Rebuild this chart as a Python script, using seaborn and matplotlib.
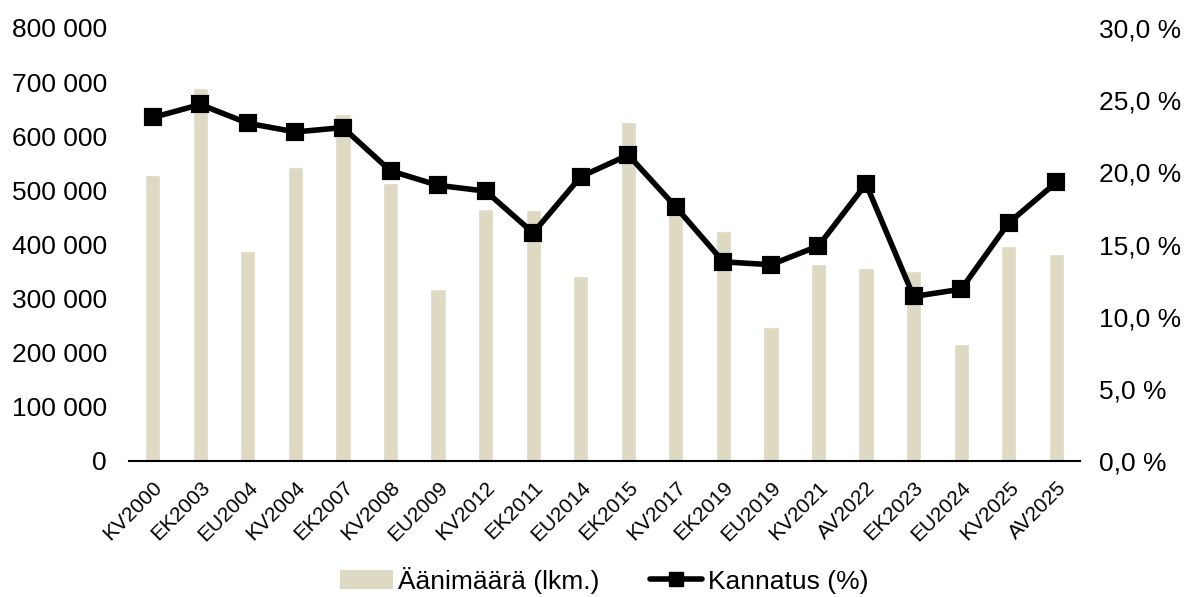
import matplotlib
matplotlib.use("Agg")
import matplotlib.pyplot as plt
import seaborn as sns
import numpy as np
from matplotlib.ticker import FuncFormatter, MultipleLocator
from matplotlib.lines import Line2D
from matplotlib.patches import Patch

categories = ["KV2000", "EK2003", "EU2004", "KV2004", "EK2007", "KV2008", "EU2009",
              "KV2012", "EK2011", "EU2014", "EK2015", "KV2017", "EK2019", "EU2019",
              "KV2021", "AV2022", "EK2023", "EU2024", "KV2025", "AV2025"]
votes = [529000, 690000, 388000, 544000, 641000, 513000, 318000,
         466000, 464000, 341000, 627000, 455000, 425000, 248000,
         364000, 357000, 351000, 216000, 397000, 383000]
support = [23.8, 24.7, 23.4, 22.8, 23.1, 20.1, 19.1,
           18.7, 15.8, 19.7, 21.2, 17.6, 13.8, 13.6,
           14.9, 19.2, 11.4, 11.9, 16.5, 19.3]

sns.set_style("white")
plt.rcParams['font.family'] = ['Liberation Sans', 'DejaVu Sans']
plt.rcParams['text.color'] = 'black'
plt.rcParams['xtick.color'] = 'black'
plt.rcParams['ytick.color'] = 'black'
plt.rcParams['axes.labelcolor'] = 'black'

bar_color = "#DDD9C3"
fig = plt.figure(figsize=(11.86, 5.97), dpi=100)
ax = fig.add_axes([129/1186, 1 - 461/597, (1080-129)/1186, (461-28)/597])

sns.barplot(x=categories, y=votes, ax=ax, color=bar_color, width=0.32,
            saturation=1, errorbar=None)
ax.set_ylim(0, 800000)
ax.yaxis.set_major_locator(MultipleLocator(100000))
ax.yaxis.set_major_formatter(FuncFormatter(lambda v, p: f"{int(v):,}".replace(",", " ")))

ax2 = ax.twinx()
sns.pointplot(x=categories, y=support, ax=ax2, color="black", markers="s",
              linestyles="-", errorbar=None, markersize=10, linewidth=4)
ax2.set_ylim(0, 30)
ax2.yaxis.set_major_locator(MultipleLocator(5))
ax2.yaxis.set_major_formatter(FuncFormatter(lambda v, p: f"{v:.1f} %".replace(".", ",")))
ax.set_xlim(-0.5, len(categories) - 0.5)
ax2.set_xlim(-0.5, len(categories) - 0.5)

for a in (ax, ax2):
    for s in a.spines.values():
        s.set_visible(False)
    a.set_xlabel("")
    a.set_ylabel("")
    a.grid(False)
ax.spines["bottom"].set_visible(True)
ax.spines["bottom"].set_color("black")
ax.spines["bottom"].set_linewidth(1.5)

ax.tick_params(axis="y", length=0, labelsize=19, pad=16, labelcolor="black")
ax2.tick_params(axis="y", length=0, labelsize=19, pad=14, labelcolor="black")
ax.tick_params(axis="x", length=0, labelsize=15, pad=12, labelcolor="black")
ax.set_xticks(range(len(categories)))
ax.set_xticklabels(categories, rotation=45, ha="right", rotation_mode="anchor")
for lbl in ax2.get_yticklabels():
    lbl.set_horizontalalignment("left")

handles = [Patch(facecolor=bar_color, edgecolor="none"),
           Line2D([0], [0], color="black", lw=4, marker="s", markersize=10)]
fig.legend(handles, ["Äänimäärä (lkm.)", "Kannatus (%)"], loc="center",
           bbox_to_anchor=(604/1186, 17/597), ncol=2, frameon=False, fontsize=19,
           handlelength=2.0, handletextpad=0.2, columnspacing=1.9,
           labelcolor="black")

fig.savefig("out.png", dpi=100)
